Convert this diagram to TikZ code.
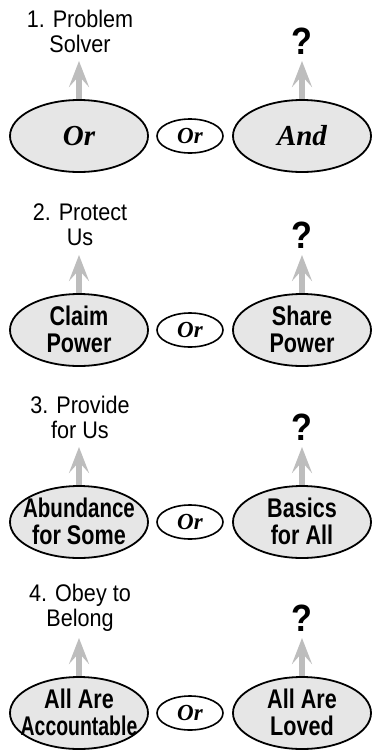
\documentclass[tikz,border=0pt]{standalone}
\usepackage{fontspec}
\setmainfont{Liberation Sans}
\newfontfamily\ellfont[FakeStretch=0.8]{Liberation Sans Bold}
\newfontfamily\labelfont[FakeStretch=0.9]{Liberation Sans}
\newfontfamily\qfont[FakeStretch=0.9]{Liberation Sans Bold}
\newfontfamily\orfont{Liberation Serif}
\usetikzlibrary{shapes.geometric,arrows.meta}
\definecolor{ellfill}{HTML}{E6E6E6}
\definecolor{arrgray}{HTML}{BDBDBD}
\tikzset{
  bigell/.style={ellipse, draw=black, line width=1.8pt, fill=ellfill,
    minimum width=138pt, minimum height=72pt, inner sep=0pt},
  elltext/.style={align=center, inner sep=0pt,
    font=\ellfont\fontsize{27}{27}\selectfont},
  smallell/.style={ellipse, draw=black, line width=1.6pt, fill=white,
    minimum width=66pt, minimum height=34pt, inner sep=0pt,
    font=\orfont\bfseries\itshape\fontsize{23}{23}\selectfont},
  orbig/.style={inner sep=0pt, font=\orfont\bfseries\itshape\fontsize{29}{29}\selectfont},
  lbl/.style={align=center, inner sep=0pt,
    font=\labelfont\fontsize{24}{25}\selectfont},
  qmark/.style={inner sep=0pt, font=\qfont\fontsize{38}{38}\selectfont},
  uparrow/.style={draw=arrgray, line width=6pt,
    -{Stealth[length=26pt,width=20pt,inset=11pt]}}
}
\begin{document}
\begin{tikzpicture}[x=1pt,y=-1pt]
\useasboundingbox (0,0) rectangle (377,750);
% Row 1
\node[bigell] (L1) at (79,136) {};
\node[orbig] (L1t) at (L1.center) {Or};
\node[smallell] (S1) at (190,136) {Or};
\node[bigell] (R1) at (302,136) {};
\node[orbig] (R1t) at (R1.center) {And};
\coordinate (tl1) at (79,61);
\coordinate (tr1) at (302,61);
\draw[uparrow] (L1.north) -- (tl1);
\draw[uparrow] (R1.north) -- (tr1);
\node[lbl] (T1) at (80,31) {1. Problem\\Solver};
\node[qmark] (Q1) at (302,41) {?};
% Row 2
\node[bigell] (L2) at (79,330) {};
\node[elltext] (L2t) at (79,329) {Claim\\Power};
\node[smallell] (S2) at (190,330) {Or};
\node[bigell] (R2) at (302,330) {};
\node[elltext] (R2t) at (302,329) {Share\\Power};
\coordinate (tl2) at (79,255);
\coordinate (tr2) at (302,255);
\draw[uparrow] (L2.north) -- (tl2);
\draw[uparrow] (R2.north) -- (tr2);
\node[lbl] (T2) at (80,225) {2. Protect\\Us};
\node[qmark] (Q2) at (302,235) {?};
% Row 3
\node[bigell] (L3) at (79,522) {};
\node[elltext] (L3t) at (79,521) {\scalebox{0.95}[1]{Abundance}\\for Some};
\node[smallell] (S3) at (190,522) {Or};
\node[bigell] (R3) at (302,522) {};
\node[elltext] (R3t) at (302,521) {Basics\\for All};
\coordinate (tl3) at (79,447);
\coordinate (tr3) at (302,447);
\draw[uparrow] (L3.north) -- (tl3);
\draw[uparrow] (R3.north) -- (tr3);
\node[lbl] (T3) at (80,417) {3. Provide\\for Us};
\node[qmark] (Q3) at (302,427) {?};
% Row 4
\node[bigell] (L4) at (79,713) {};
\node[elltext] (L4t) at (79,712) {All Are\\\scalebox{0.9}[1]{Accountable}};
\node[smallell] (S4) at (190,713) {Or};
\node[bigell] (R4) at (302,713) {};
\node[elltext] (R4t) at (302,712) {All Are\\Loved};
\coordinate (tl4) at (79,638);
\coordinate (tr4) at (302,638);
\draw[uparrow] (L4.north) -- (tl4);
\draw[uparrow] (R4.north) -- (tr4);
\node[lbl] (T4) at (80,608) {4. Obey to\\Belong};
\node[qmark] (Q4) at (302,618) {?};
\end{tikzpicture}
\end{document}
